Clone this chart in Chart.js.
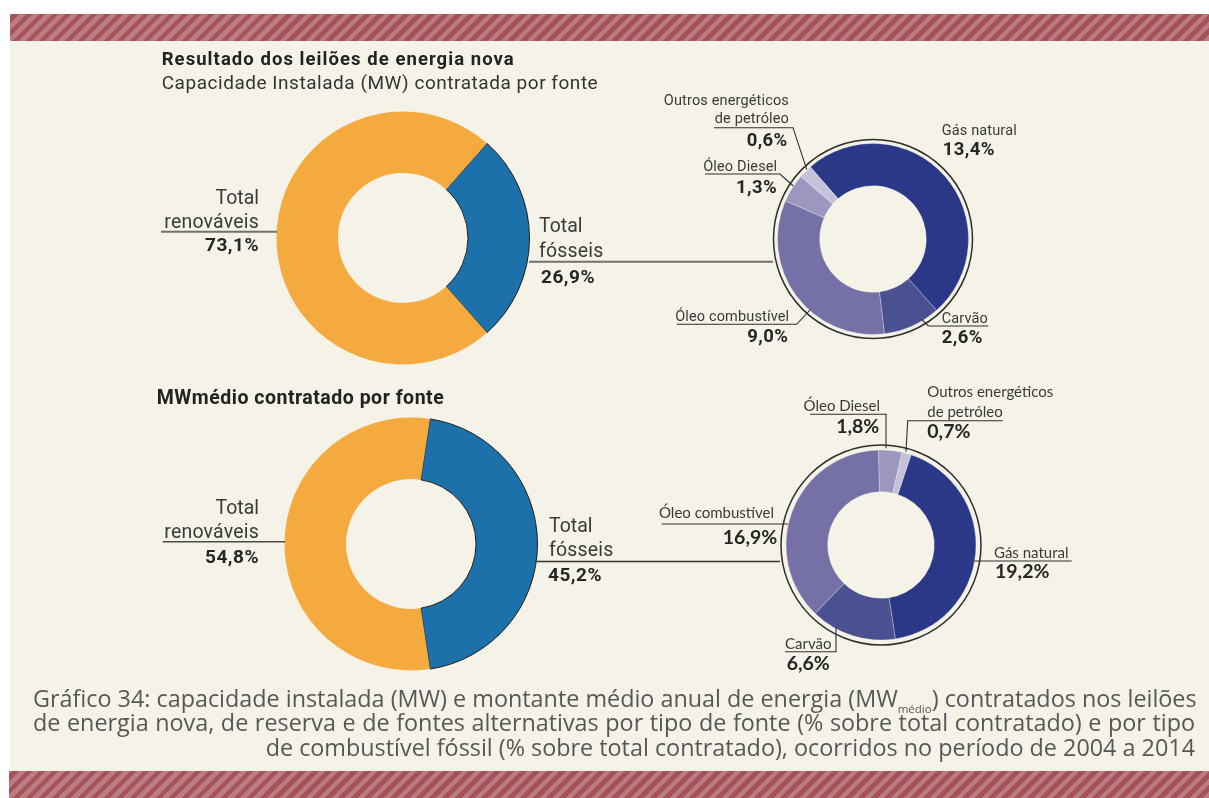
<!DOCTYPE html>
<html lang="pt-BR">
<head>
<meta charset="UTF-8">
<title>Gráfico 34</title>
<script src="https://cdn.jsdelivr.net/npm/chart.js"></script>
<style>
    body, html {
        margin: 0;
        padding: 0;
        width: 1209px;
        height: 798px;
        overflow: hidden;
        background: #ffffff;
    }
    .band {
        position: absolute;
        background: repeating-linear-gradient(-45deg, #bb7c80 0px, #bb7c80 4.4px, #a5525b 4.4px, #a5525b 9.2px);
    }
    #panel {
        position: absolute;
        left: 10px; top: 41px;
        width: 1199px; height: 731px;
        background: #f5f2e7;
    }
    canvas { position: absolute; }
    #overlay { position: absolute; left: 0; top: 0; }
    #caption {
        position: absolute;
        left: 33px; top: 690px;
        width: 1162px;
        font-family: "Open Sans", sans-serif;
        font-size: 20px;
        color: #575757;
    }
    #caption div {
        height: 24.4px;
        line-height: 24.4px;
        white-space: nowrap;
        text-align: justify;
        text-align-last: justify;
    }
    #caption div.last { text-align-last: right; }
    #caption .sub { font-size: 11.5px; position: relative; top: 6px; }
</style>
</head>
<body>
<div class="band" style="left:10px; top:14px; width:1199px; height:27px;"></div>
<div id="panel"></div>
<div class="band" style="left:9px; top:771px; width:1200px; height:27px;"></div>

<canvas id="capTotal" width="260" height="260" style="left:273px; top:108px;"></canvas>
<canvas id="mwTotal" width="260" height="260" style="left:281px; top:414px;"></canvas>
<canvas id="capFosseis" width="212" height="212" style="left:767px; top:133px;"></canvas>
<canvas id="mwFosseis" width="212" height="212" style="left:775px; top:439px;"></canvas>

<svg id="overlay" width="1209" height="798" xmlns="http://www.w3.org/2000/svg"></svg>

<div id="caption">
    <div>Gráfico 34: capacidade instalada (MW) e montante médio anual de energia (MW<span class="sub">médio</span>) contratados nos leilões</div>
    <div>de energia nova, de reserva e de fontes alternativas por tipo de fonte (% sobre total contratado) e por tipo</div>
    <div class="last"><span id="lastLine">de combustível fóssil (% sobre total contratado), ocorridos no período de 2004 a 2014</span></div>
</div>

<script>
// fossil vs renewable share (% of total contracted)
const totalLabels = ['Total fósseis', 'Total renováveis'];
const capacidadeTotais = [26.9, 73.1];
const mwMedioTotais = [45.2, 54.8];

// breakdown of the fossil share by fuel (% of total contracted)
const fosseisLabels = ['Gás natural', 'Carvão', 'Óleo combustível', 'Óleo Diesel', 'Outros energéticos de petróleo'];
const capacidadeFosseis = [13.4, 2.6, 9.0, 1.3, 0.6];
const mwMedioFosseis = [19.2, 6.6, 16.9, 1.8, 0.7];

const totalColors = ['#1c71aa', '#f4aa3f'];
const fosseisColors = ['#2b3888', '#4a5090', '#7570a6', '#9b97bf', '#c5c2d8'];

const pct = v => v.toFixed(1).replace('.', ',') + '%';

// thin circle drawn just outside the ring
const ringPlugin = {
    id: 'ring',
    afterDatasetsDraw(chart, args, o) {
        const arc = chart.getDatasetMeta(0).data[0];
        const ctx = chart.ctx;
        ctx.save();
        ctx.beginPath();
        ctx.arc(arc.x, arc.y, arc.outerRadius + o.gap, 0, Math.PI * 2);
        ctx.lineWidth = o.width;
        ctx.strokeStyle = o.color;
        ctx.stroke();
        ctx.restore();
    }
};

function donut(id, labels, values, colors, cfg) {
    return new Chart(document.getElementById(id), {
        type: 'doughnut',
        data: {
            labels: labels,
            datasets: [{
                data: values,
                backgroundColor: colors,
                borderColor: cfg.borderColor,
                borderWidth: cfg.borderWidth
            }]
        },
        options: {
            responsive: false,
            animation: false,
            radius: cfg.radius,
            cutout: (cfg.inner / cfg.radius * 100) + '%',
            rotation: cfg.rotation,
            layout: { padding: 0 },
            plugins: {
                legend: { display: false },
                tooltip: { enabled: false },
                ring: cfg.ring || false
            }
        },
        plugins: cfg.ring ? [ringPlugin] : []
    });
}

// fossil slice centred on the right-hand side
const centreRight = v => 90 - v * 3.6 / 2;

donut('capTotal', totalLabels, capacidadeTotais, totalColors, {
    radius: 126.5, inner: 65, rotation: centreRight(capacidadeTotais[0]),
    borderColor: ['#1d1d1d', 'rgba(0,0,0,0)'], borderWidth: [1, 0]
});
donut('mwTotal', totalLabels, mwMedioTotais, totalColors, {
    radius: 126.5, inner: 65, rotation: centreRight(mwMedioTotais[0]),
    borderColor: ['#1d1d1d', 'rgba(0,0,0,0)'], borderWidth: [1, 0]
});
donut('capFosseis', fosseisLabels, capacidadeFosseis, fosseisColors, {
    radius: 95.5, inner: 53.3, rotation: -41,
    borderColor: 'rgba(255,255,255,0.35)', borderWidth: 0.8,
    ring: { gap: 4, width: 1.5, color: '#2e2e2e' }
});
donut('mwFosseis', fosseisLabels, mwMedioFosseis, fosseisColors, {
    radius: 95, inner: 53.3, rotation: 18.4,
    borderColor: 'rgba(255,255,255,0.35)', borderWidth: 0.8,
    ring: { gap: 5, width: 1.5, color: '#2e2e2e' }
});

// ---- titles, labels and leader lines ----
const svg = document.getElementById('overlay');
const NS = 'http://www.w3.org/2000/svg';

function text(x, y, str, o) {
    const t = document.createElementNS(NS, 'text');
    t.setAttribute('x', x);
    t.setAttribute('y', y);
    t.setAttribute('font-family', o.font || 'Roboto');
    t.setAttribute('font-size', o.size);
    t.setAttribute('font-weight', o.bold ? 700 : 400);
    t.setAttribute('fill', o.color || (o.bold ? '#262626' : '#3a3a3a'));
    t.setAttribute('text-anchor', o.anchor || 'start');
    if (o.spacing) t.setAttribute('letter-spacing', o.spacing);
    if (o.width) {
        t.setAttribute('textLength', o.width);
        t.setAttribute('lengthAdjust', 'spacing');
    }
    t.textContent = str;
    svg.appendChild(t);
}

function line(points, color, width) {
    const p = document.createElementNS(NS, 'polyline');
    p.setAttribute('points', points.map(q => q.join(',')).join(' '));
    p.setAttribute('fill', 'none');
    p.setAttribute('stroke', color);
    p.setAttribute('stroke-width', width);
    svg.appendChild(p);
}

text(161.7, 65, 'Resultado dos leilões de energia nova', { size: 18.5, bold: true, color: '#222', width: 352 });
text(161.7, 89.3, 'Capacidade Instalada (MW) contratada por fonte', { size: 19, color: '#333', width: 436 });
text(156.7, 404, 'MWmédio contratado por fonte', { size: 19.5, bold: true, color: '#222', width: 287 });

// left donuts: renewable / fossil totals
const big = { size: 19.5 };
const bigBold = { size: 19, bold: true, spacing: 0.5 };

text(259, 204, 'Total', { ...big, anchor: 'end' });
text(259, 228, 'renováveis', { ...big, anchor: 'end', spacing: 0.2 });
text(259, 251, pct(capacidadeTotais[1]), { ...bigBold, anchor: 'end' });
line([[161, 231.7], [277, 231.7]], '#707070', 2);
text(539, 232.3, 'Total', big);
text(539, 256.7, 'fósseis', { ...big, spacing: 0.2 });
text(541, 282.7, pct(capacidadeTotais[0]), bigBold);
line([[529, 261.7], [773, 261.7]], '#707070', 2);

text(259, 514, 'Total', { ...big, anchor: 'end' });
text(259, 538.3, 'renováveis', { ...big, anchor: 'end', spacing: 0.2 });
text(259, 563.3, pct(mwMedioTotais[1]), { ...bigBold, anchor: 'end' });
line([[162.7, 541.7], [285, 541.7]], '#4a4a4a', 1.6);
text(549, 531.7, 'Total', big);
text(549, 555.7, 'fósseis', { ...big, spacing: 0.2 });
text(548, 580.7, pct(mwMedioTotais[0]), bigBold);
line([[537, 561.5], [780, 561.5]], '#333', 1.6);

// top-right breakdown
const sm = { size: 14.5, spacing: 0.15 };
const smBold = { size: 18.5, bold: true, spacing: 0.4 };
const lc = '#2e2e2e';

text(789, 105, 'Outros energéticos', { ...sm, anchor: 'end' });
text(789, 123.3, 'de petróleo', { ...sm, anchor: 'end' });
text(787.7, 145.7, pct(capacidadeFosseis[4]), { ...smBold, anchor: 'end' });
line([[714, 127.7], [793, 127.7], [806.7, 169.3]], lc, 1.1);

text(777.3, 170.7, 'Óleo Diesel', { ...sm, anchor: 'end' });
text(777, 192.7, pct(capacidadeFosseis[3]), { ...smBold, anchor: 'end' });
line([[705, 174], [780, 174], [793.3, 186]], lc, 1.1);

text(941.7, 135, 'Gás natural', sm);
text(942.7, 155, pct(capacidadeFosseis[0]), smBold);

text(789.3, 320.7, 'Óleo combustível', { ...sm, anchor: 'end' });
text(788.3, 341.7, pct(capacidadeFosseis[2]), { ...smBold, anchor: 'end' });
line([[676.7, 324.3], [796.7, 324.3], [810, 310]], lc, 1.1);

text(941.7, 323.3, 'Carvão', sm);
text(941.7, 343.3, pct(capacidadeFosseis[1]), smBold);
line([[988.3, 326], [928.3, 326], [921.7, 319.3]], lc, 1.1);

// bottom-right breakdown
const sm2 = { size: 15, font: 'Lato' };
const sm2Bold = { size: 19.5, bold: true, font: 'Lato' };

text(880, 410.7, 'Óleo Diesel', { ...sm2, anchor: 'end' });
text(879.3, 433.3, pct(mwMedioFosseis[3]), { ...sm2Bold, anchor: 'end' });
line([[810, 414.3], [886, 414.3], [886, 448.3]], lc, 1.1);

text(927.3, 396.7, 'Outros energéticos', sm2);
text(927.3, 416.7, 'de petróleo', sm2);
text(927.3, 438.3, pct(mwMedioFosseis[4]), sm2Bold);
line([[1002.7, 420.7], [907.7, 420.7], [906, 451.7]], lc, 1.1);

text(774, 517.7, 'Óleo combustível', { ...sm2, anchor: 'end' });
text(777.3, 544, pct(mwMedioFosseis[2]), { ...sm2Bold, anchor: 'end' });
line([[661.7, 524], [788.3, 524]], lc, 1.1);

text(994, 558.3, 'Gás natural', sm2);
text(995, 578.3, pct(mwMedioFosseis[0]), sm2Bold);
line([[974.3, 561], [1071.7, 561]], lc, 1.1);

text(785, 649.3, 'Carvão', sm2);
text(786.7, 670, pct(mwMedioFosseis[1]), sm2Bold);
line([[785, 651.7], [836, 651.7], [836, 627.3]], lc, 1.1);

// caption: size the font so the right-aligned last line spans its full width
const caption = document.getElementById('caption');
const lastW = document.getElementById('lastLine').getBoundingClientRect().width;
const capSize = 20 * 930 / lastW;
caption.style.fontSize = capSize + 'px';
caption.style.top = (707 - (12.2 + 0.388 * capSize)) + 'px';
</script>
</body>
</html>
